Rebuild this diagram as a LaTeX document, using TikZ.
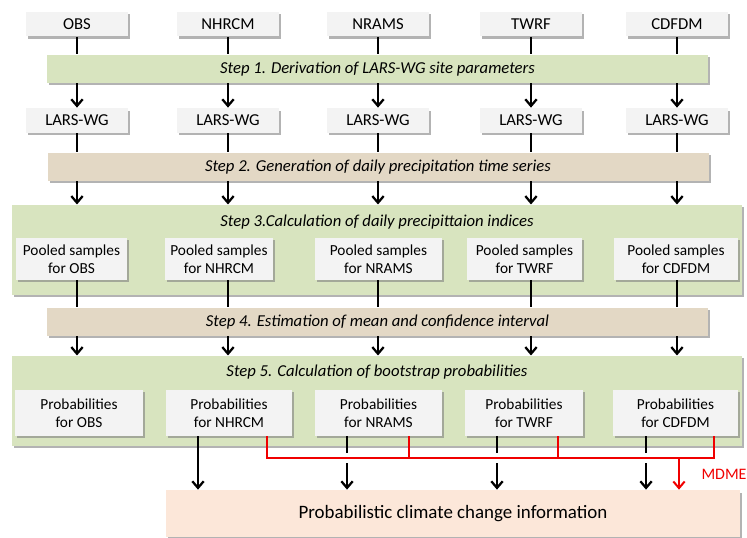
\documentclass[tikz,border=0pt]{standalone}
\usepackage{fontspec}
\setmainfont{Carlito}
\usetikzlibrary{arrows.meta,shadows}

\definecolor{boxgray}{RGB}{243,243,243}
\definecolor{stepgreen}{RGB}{216,228,191}
\definecolor{steptan}{RGB}{227,216,197}
\definecolor{outpeach}{RGB}{252,231,217}
\definecolor{mdmered}{RGB}{240,0,0}

\tikzset{every picture/.style={line width=0.75pt}}
\tikzset{
  boxshadow/.style={drop shadow={shadow xshift=1.8pt,shadow yshift=-1.8pt,fill=black!50,opacity=.6}},
  srcbox/.style={rectangle,fill=boxgray,boxshadow,inner sep=0pt,minimum width=76.5pt,minimum height=18.5pt,font=\fontsize{12.5}{14}\selectfont},
  poolbox/.style={rectangle,fill=boxgray,boxshadow,inner sep=0pt,align=center,minimum height=31.5pt,font=\fontsize{11.5}{13.5}\selectfont},
  probbox/.style={poolbox,minimum height=34.5pt},
  stepband/.style={rectangle,boxshadow,inner sep=0pt,minimum width=495.75pt,minimum height=21pt,font=\fontsize{12.5}{14}\selectfont\itshape},
  stepbox/.style={rectangle,fill=stepgreen,boxshadow,inner sep=0pt,minimum width=547.5pt},
  steptitle/.style={inner sep=0pt,font=\fontsize{12.5}{14}\selectfont\itshape},
  link/.style={line width=1.7pt},
  flow/.style={line width=1.7pt,-{Straight Barb[length=5pt,width=8.5pt]}},
  mdmeline/.style={draw=mdmered,line width=1.5pt},
  mdmeflow/.style={draw=mdmered,line width=1.5pt,-{Straight Barb[length=5pt,width=8.5pt]}}
}

\begin{document}
\begin{tikzpicture}[x=0.75pt,y=0.75pt,yscale=-1,xscale=1]
\useasboundingbox (0,0) rectangle (747,538);

% Source boxes
\node [srcbox] (obs) at (77,24) {OBS};
\node [srcbox] (nhrcm) at (228,24) {NHRCM};
\node [srcbox] (nrams) at (378,24) {NRAMS};
\node [srcbox] (twrf) at (531,24) {TWRF};
\node [srcbox] (cdfdm) at (677,24) {CDFDM};

% Step 1
\node [stepband,fill=stepgreen] (step1) at (377.5,69) {Step 1. Derivation of LARS-WG site parameters};

% LARS-WG boxes
\node [srcbox] (lobs) at (77,120.5) {LARS-WG};
\node [srcbox] (lnhrcm) at (228,120.5) {LARS-WG};
\node [srcbox] (lnrams) at (378,120.5) {LARS-WG};
\node [srcbox] (ltwrf) at (531,120.5) {LARS-WG};
\node [srcbox] (lcdfdm) at (677,120.5) {LARS-WG};

% Step 2
\node [stepband,fill=steptan] (step2) at (378,167) {Step 2. Generation of daily precipitation time series};

% Step 3
\node [stepbox,minimum height=67.5pt] (step3) at (377,250) {};
\node [steptitle] (title3) at (377,222) {Step 3.Calculation of daily precipittaion indices};
\node [poolbox,minimum width=83.25pt] (pobs) at (71.5,259) {Pooled samples\\for OBS};
\node [poolbox,minimum width=81pt] (pnhrcm) at (219,259) {Pooled samples\\for NHRCM};
\node [poolbox,minimum width=95.25pt] (pnrams) at (378.5,259) {Pooled samples\\for NRAMS};
\node [poolbox,minimum width=86.25pt] (ptwrf) at (524.5,259) {Pooled samples\\for TWRF};
\node [poolbox,minimum width=93pt] (pcdfdm) at (676,259) {Pooled samples\\for CDFDM};

% Step 4
\node [stepband,fill=steptan] (step4) at (377.5,322) {Step 4. Estimation of mean and confidence interval};

% Step 5
\node [stepbox,minimum height=67.5pt] (step5) at (377,401) {};
\node [steptitle] (title5) at (377,372) {Step 5. Calculation of bootstrap probabilities};
\node [probbox,minimum width=96pt] (qobs) at (79,413) {Probabilities\\for OBS};
\node [probbox,minimum width=94.5pt] (qnhrcm) at (229,413) {Probabilities\\for NHRCM};
\node [probbox,minimum width=95.25pt] (qnrams) at (378.5,413) {Probabilities\\for NRAMS};
\node [probbox,minimum width=88.5pt] (qtwrf) at (524,413) {Probabilities\\for TWRF};
\node [probbox,minimum width=93.75pt] (qcdfdm) at (675.5,413) {Probabilities\\for CDFDM};

% Output
\node [rectangle,fill=outpeach,boxshadow,inner sep=0pt,minimum width=430.5pt,minimum height=35pt,font=\fontsize{14.2}{16}\selectfont] (fin) at (453,513.5) {Probabilistic climate change information};

% Connectors through the steps
\foreach \n in {obs,nhrcm,nrams,twrf,cdfdm}{
  \draw [link] (\n.south) -- (\n.south |- step1.north);
  \draw [flow] (l\n.north |- step1.south) -- (l\n.north);
  \draw [link] (l\n.south) -- (l\n.south |- step2.north);
  \draw [flow] (l\n.south |- step2.south) -- (l\n.south |- step3.north);
  \draw [link] (l\n.south |- p\n.south) -- (l\n.south |- step4.north);
  \draw [flow] (l\n.south |- step4.south) -- (l\n.south |- step5.north);
}

% Probabilities to output
\draw [flow] ([xshift=-23.25pt]qnhrcm.south) -- ([xshift=-23.25pt]qnhrcm.south |- fin.north);
\draw [flow] ([xshift=-23.6pt]qnrams.south) -- ([xshift=-23.6pt]qnrams.south |- fin.north);
\draw [flow] ([xshift=-20.25pt]qtwrf.south) -- ([xshift=-20.25pt]qtwrf.south |- fin.north);
\draw [flow] ([xshift=-22.1pt]qcdfdm.south) -- ([xshift=-22.1pt]qcdfdm.south |- fin.north);

% MDME
\coordinate (bus) at (0,458);
\coordinate (r1) at ([xshift=28.5pt]qnhrcm.south);
\coordinate (r2) at ([xshift=22.9pt]qnrams.south);
\coordinate (r3) at ([xshift=25.5pt]qtwrf.south);
\coordinate (r4) at ([xshift=28.9pt]qcdfdm.south);
\coordinate (mdmeout) at (679,458);
\draw [white,line width=8pt] (r1 |- bus) -- (r4 |- bus);
\draw [mdmeline] (r1) -- (r1 |- bus) -- (r4 |- bus) -- (r4);
\draw [mdmeline] (r2) -- (r2 |- bus);
\draw [mdmeline] (r3) -- (r3 |- bus);
\draw [mdmeflow] (mdmeout) -- (mdmeout |- fin.north);
\node [anchor=west,inner sep=0pt,text=mdmered,font=\fontsize{12}{14}\selectfont] (mdme) at (701,474) {MDME};

\end{tikzpicture}
\end{document}
